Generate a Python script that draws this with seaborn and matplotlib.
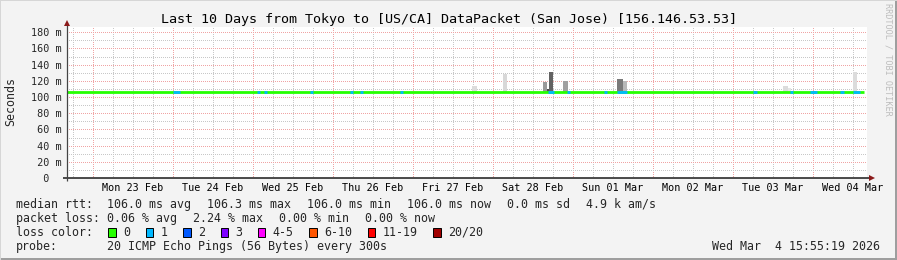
import numpy as np
import pandas as pd
import matplotlib
matplotlib.use("Agg")
import matplotlib.pyplot as plt
import seaborn as sns
from matplotlib.ticker import FixedLocator
from matplotlib.patches import Rectangle

# ------------------------------------------------------------------ data
# time values are hours since Sun 22 Feb 2026 00:00
title = "Last 10 Days from Tokyo to [US/CA] DataPacket (San Jose) [156.146.53.53]"
day_labels = ["Mon 23 Feb", "Tue 24 Feb", "Wed 25 Feb", "Thu 26 Feb", "Fri 27 Feb",
              "Sat 28 Feb", "Sun 01 Mar", "Mon 02 Mar", "Tue 03 Mar", "Wed 04 Mar"]
ytick_ms = [0, 20, 40, 60, 80, 100, 120, 140, 160, 180]
ytick_labels = ["  0  ", " 20 m", " 40 m", " 60 m", " 80 m",
                "100 m", "120 m", "140 m", "160 m", "180 m"]
view_start_h = 16.32
view_end_h = 256.32
y_top_ms = 186.5

median_time_h = [16.32, 255.3]
median_rtt_ms = [106.0, 106.0]

loss_start_h = [48.1, 73.3, 75.3, 89.3, 101.3, 104.3, 116.3, 160.5, 166.4, 177.3,
                181.4, 222.1, 233.3, 239.3, 248.3, 252.1]
loss_end_h = [50.3, 74.3, 76.3, 90.0, 102.1, 105.1, 117.1, 162.3, 167.1, 178.3,
              184.3, 223.3, 234.1, 241.3, 249.3, 254.3]
loss_pings = [1] * 16

smoke_start_h = [137.9, 147.2, 159.0, 160.3, 161.0, 165.1, 181.4, 183.2, 231.2, 232.7, 252.2]
smoke_end_h = [139.3, 148.4, 160.3, 161.0, 162.2, 166.5, 183.2, 184.4, 232.7, 233.6, 253.4]
smoke_top_ms = [114.0, 128.5, 119.0, 110.0, 131.0, 120.0, 122.0, 120.0, 114.0, 111.0, 131.0]
smoke_gray = ["#dcdcdc", "#d8d8d8", "#9a9a9a", "#505050", "#626262", "#a0a0a0",
              "#7a7a7a", "#b8b8b8", "#dcdcdc", "#e6e6e6", "#dcdcdc"]

loss_labels = ["0", "1", "2", "3", "4-5", "6-10", "11-19", "20/20"]
loss_colors = ["#26ff00", "#00b8ff", "#0059ff", "#7e00ff", "#ff00ff", "#ff5500", "#ff0000", "#a00000"]

rtt_stats = ["106.0 ms avg", "106.3 ms max", "106.0 ms min", "106.0 ms now", "0.0 ms sd", "4.9 k am/s"]
loss_stats = ["0.06 % avg", "2.24 % max", "0.00 % min", "0.00 % now"]
probe_text = "20 ICMP Echo Pings (56 Bytes) every 300s"
stamp_text = "Wed Mar  4 15:55:19 2026"

# ------------------------------------------------------------------ style
sns.set_style("white")
plt.rcParams["font.family"] = ["DejaVu Sans Mono", "DejaVu Sans"]

W, H = 897, 260
BG = "#f3f3f3"
fig = plt.figure(figsize=(W / 100, H / 100), dpi=100, facecolor=BG)


def fx(px):
    return px / W


def fy(py):
    return 1 - py / H


AX_L, AX_B, AX_W, AX_H = 67.0, 178.0, 800.0, 151.0
ax = fig.add_axes([fx(AX_L), fy(AX_B), AX_W / W, AX_H / H])
ax.set_facecolor("white")
for s in ax.spines.values():
    s.set_visible(False)

# smoke
ax.bar(smoke_start_h, np.array(smoke_top_ms) - median_rtt_ms[0],
       width=np.array(smoke_end_h) - np.array(smoke_start_h),
       bottom=median_rtt_ms[0], align="edge", color=smoke_gray, linewidth=0, zorder=2)

# median line (loss 0 colour) and loss segments
df = pd.DataFrame({"t": median_time_h, "median": median_rtt_ms})
sns.lineplot(data=df, x="t", y="median", color=loss_colors[0], lw=2.0, ax=ax,
             legend=False, zorder=3, solid_capstyle="butt")
lc = ax.hlines([median_rtt_ms[0]] * len(loss_start_h), loss_start_h, loss_end_h,
               colors=[loss_colors[n] for n in loss_pings], lw=2.0, zorder=4)
lc.set_capstyle("butt")

ax.set_xlabel("")
ax.set_ylabel("")
ax.set_xlim(view_start_h, view_end_h)
ax.set_ylim(0, y_top_ms)

# grid: red every day / 20 ms, grey every 6 h / 10 ms
midnights = np.arange(24, view_end_h, 24)
six_hours = [h for h in np.arange(18, view_end_h, 6) if h % 24 != 0]
ten_ms = list(range(10, 186, 20))
ax.xaxis.set_major_locator(FixedLocator(midnights))
ax.xaxis.set_minor_locator(FixedLocator(six_hours))
ax.set_yticks(ytick_ms)
ax.set_yticklabels(ytick_labels)
ax.yaxis.set_minor_locator(FixedLocator(ten_ms))
ax.set_axisbelow(True)
ax.grid(which="minor", color="#c8c8c8", linestyle=(0.5, (1, 1)), lw=0.72)
ax.grid(which="major", color="#f0a4a4", linestyle=(0.5, (1, 1)), lw=0.72)

ax.tick_params(axis="x", which="major", length=2.2, width=0.72, color="#d07070",
               direction="out", labelbottom=False)
ax.tick_params(axis="x", which="minor", length=1.5, width=0.72, color="#9a9a9a", direction="out")
ax.tick_params(axis="y", which="major", length=2.2, width=0.72, color="#555555",
               direction="out", labelsize=7.3, pad=23.7)
ax.tick_params(axis="y", which="minor", length=1.5, width=0.72, color="#9a9a9a", direction="out")
for lbl in ax.get_yticklabels():
    lbl.set_horizontalalignment("left")

# day labels centred at noon
for i, lab in enumerate(day_labels):
    ax.text(36 + 24 * i, -9.7 / AX_H, lab, transform=ax.get_xaxis_transform(),
            ha="center", va="center", fontsize=7.3, color="black")

# axes lines + arrows
axis_col = "#1a1a1a"
arrow_col = "#8b1a1a"
ax.plot([-3.7 / AX_W, 1 + 1.5 / AX_W], [0, 0], transform=ax.transAxes, color=axis_col,
        lw=1.1, clip_on=False, solid_capstyle="butt", zorder=6)
ax.plot([0, 0], [-3 / AX_H, 1 + 3 / AX_H], transform=ax.transAxes, color="#444444",
        lw=0.9, clip_on=False, solid_capstyle="butt", zorder=6)
ax.plot([1 + 4.5 / AX_W], [0], marker=">", ms=5, mew=0, color=arrow_col,
        transform=ax.transAxes, clip_on=False, zorder=7)
ax.plot([0], [1 + 4.5 / AX_H], marker="^", ms=5, mew=0, color=arrow_col,
        transform=ax.transAxes, clip_on=False, zorder=7)

# title, y label, watermark
fig.text(0.5, fy(19), title, ha="center", va="center", fontsize=9.6, color="black")
fig.text(fx(11), fy(102), "Seconds", rotation=90, ha="center", va="center", fontsize=8.4)
fig.text(fx(888), fy(59), "RRDTOOL / TOBI OETIKER", rotation=270, ha="center", va="center",
         fontsize=6.1, color="#bdbdbd")

# legend rows
LS = 8.37
CW = 7.0
row_y = [204.3, 218.3, 232.3, 246.7]
fig.text(fx(16), fy(row_y[0]), "median rtt:", ha="left", va="center", fontsize=LS)
for x, s in zip([107.3, 207.0, 307.3, 407.3, 507.0, 585.5], rtt_stats):
    fig.text(fx(x), fy(row_y[0]), s, ha="left", va="center", fontsize=LS)
fig.text(fx(16), fy(row_y[1]), "packet loss:", ha="left", va="center", fontsize=LS)
for x, s in zip([107.3, 193.3, 279.3, 365.3], loss_stats):
    fig.text(fx(x), fy(row_y[1]), s, ha="left", va="center", fontsize=LS)
fig.text(fx(16), fy(row_y[2]), "loss color:", ha="left", va="center", fontsize=LS)
bx = 108.3
for lab, col in zip(loss_labels, loss_colors):
    fig.patches.append(Rectangle((fx(bx), fy(row_y[2] + 4.5)), 7.5 / W, 9 / H,
                                 transform=fig.transFigure, facecolor=col,
                                 edgecolor="black", lw=0.7))
    fig.text(fx(bx + 15), fy(row_y[2]), lab, ha="left", va="center", fontsize=LS)
    bx = bx + 15 + len(lab) * CW + 15.4
fig.text(fx(16), fy(row_y[3]), "probe:", ha="left", va="center", fontsize=LS)
fig.text(fx(107.3), fy(row_y[3]), probe_text, ha="left", va="center", fontsize=LS)
fig.text(fx(880), fy(row_y[3]), stamp_text, ha="right", va="center", fontsize=LS)

# 3-D frame
fig.patches.append(Rectangle((0, 0), 1, 2 / H, transform=fig.transFigure, color="#9e9e9e", lw=0))
fig.patches.append(Rectangle((1 - 2 / W, 0), 2 / W, 1, transform=fig.transFigure, color="#9e9e9e", lw=0))
fig.patches.append(Rectangle((0, 1 - 1 / H), 1, 1 / H, transform=fig.transFigure, color="#d6d6d6", lw=0))
fig.patches.append(Rectangle((0, 0), 1 / W, 1, transform=fig.transFigure, color="#d6d6d6", lw=0))

fig.savefig("out.png", dpi=100, facecolor=BG)
